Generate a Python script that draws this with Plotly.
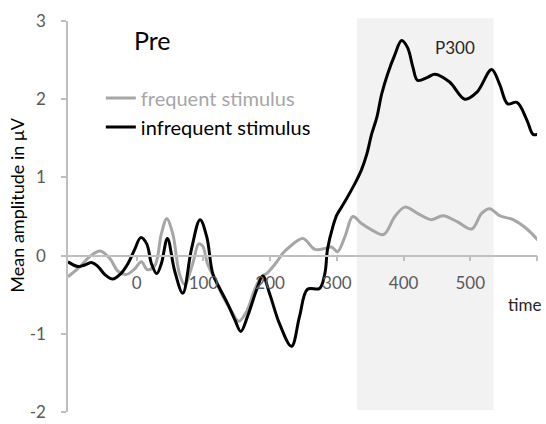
import plotly.graph_objects as go

# ---- data ----
inf_t = [-103, -88, -78, -67, -58, -48, -36, -25, -13, -3, 6, 15, 22, 30, 37, 46, 57, 69, 82, 95,
         105, 114, 125, 136, 147, 156, 166, 180, 189, 199, 214, 232, 244, 256, 274, 282, 286, 294,
         300, 307, 316, 327, 337, 345, 352, 360, 367, 376, 387, 397, 406, 414, 421, 436, 447, 469,
         492, 510, 532, 544, 556, 570, 585, 594, 601]
inf_v = [-0.08, -0.14, -0.12, -0.09, -0.14, -0.24, -0.30, -0.24, -0.10, 0.08, 0.23, 0.15, -0.10,
         -0.23, -0.10, 0.22, -0.20, -0.48, 0.08, 0.46, 0.24, -0.23, -0.43, -0.61, -0.82, -0.97,
         -0.78, -0.43, -0.26, -0.48, -0.87, -1.16, -0.78, -0.43, -0.42, -0.23, 0.08, 0.37,
         0.52, 0.62, 0.75, 0.92, 1.10, 1.30, 1.55, 1.77, 2.06, 2.32, 2.57, 2.75, 2.66, 2.41, 2.24,
         2.28, 2.32, 2.22, 2.00, 2.09, 2.38, 2.19, 1.94, 1.96, 1.73, 1.55, 1.55]

freq_t = [-103, -85, -70, -55, -40, -28, -15, -3, 7, 16, 27, 37, 45, 54, 64, 72, 84, 93, 99, 106,
          117, 129, 142, 153, 165, 177, 187, 196, 210, 219, 229, 249, 267, 282, 292, 301, 312, 324,
          337, 352, 370, 387, 402, 421, 442, 459, 481, 502, 517, 529, 544, 564, 585, 601]
freq_v = [-0.27, -0.14, -0.01, 0.06, -0.04, -0.20, -0.24, -0.17, -0.08, -0.18, -0.13, 0.28, 0.47,
          0.28, -0.23, -0.37, -0.10, 0.15, 0.12, -0.10, -0.30, -0.52, -0.71, -0.84, -0.71, -0.43,
          -0.27, -0.22, -0.08, 0.03, 0.11, 0.22, 0.08, 0.09, 0.11, 0.05, 0.24, 0.50, 0.41, 0.33,
          0.27, 0.50, 0.62, 0.54, 0.46, 0.51, 0.43, 0.34, 0.54, 0.60, 0.51, 0.46, 0.34, 0.20]

x_tickvals = [0, 100, 200, 300, 400, 500, 600]
x_ticktext = ["0", "100", "200", "300", "400", "500", ""]
y_tickvals = [-2, -1, 0, 1, 2, 3]
y_ticktext = ["-2", "-1", "0", "1", "2", "3"]
p300_window = [330, 535]

FONT = "Lato"
TICK_COLOR = "#595959"
AXIS_COLOR = "#bfbfbf"

fig = go.Figure()
fig.add_trace(go.Scatter(
    x=freq_t, y=freq_v, mode="lines",
    name="<span style='color:#a6a6a6'>frequent stimulus</span>",
    line=dict(color="#a6a6a6", width=3, shape="spline", smoothing=1.0),
    hoverinfo="skip"))
fig.add_trace(go.Scatter(
    x=inf_t, y=inf_v, mode="lines",
    name="infrequent stimulus",
    line=dict(color="#000000", width=3, shape="spline", smoothing=1.0),
    hoverinfo="skip"))

fig.add_shape(type="rect", xref="x", yref="paper",
              x0=p300_window[0], x1=p300_window[1], y0=0.005, y1=1.007,
              fillcolor="#f2f2f2", line=dict(width=0), layer="below")

fig.add_annotation(x=24, y=2.76, xref="x", yref="y", text="Pre", showarrow=False,
                   font=dict(family=FONT, size=25, color="#000000"))
fig.add_annotation(x=477, y=2.66, xref="x", yref="y", text="P300", showarrow=False,
                   font=dict(family=FONT, size=17, color="#262626"))
fig.add_annotation(x=582, y=-0.62, xref="x", yref="y", text="time", showarrow=False,
                   font=dict(family=FONT, size=17, color="#262626"))
fig.add_annotation(x=-0.109, y=0.53, xref="paper", yref="paper", text="Mean amplitude in μV",
                   textangle=-90, showarrow=False, xanchor="center", yanchor="middle",
                   font=dict(family=FONT, size=18, color="#000000"))

xr = [-103, 600]
fig.update_layout(
    width=546, height=424,
    margin=dict(l=68, r=9, t=21, b=12, autoexpand=False),
    paper_bgcolor="white", plot_bgcolor="white",
    font=dict(family=FONT, size=17, color=TICK_COLOR),
    showlegend=True,
    legend=dict(x=0.07, y=0.853, xanchor="left", yanchor="top",
                bgcolor="rgba(0,0,0,0)", borderwidth=0,
                font=dict(family=FONT, size=20, color="#000000"),
                tracegroupgap=0, itemwidth=30),
    xaxis=dict(range=xr, tickvals=x_tickvals, ticktext=x_ticktext,
               anchor="free", position=0.4, showgrid=False, zeroline=False,
               showline=True, linecolor=AXIS_COLOR, linewidth=1.5,
               ticks="outside", ticklen=5, tickcolor=AXIS_COLOR, tickwidth=1.5,
               ticklabelstandoff=7, automargin=False,
               tickfont=dict(family=FONT, size=17, color=TICK_COLOR)),
    xaxis2=dict(range=xr, tickvals=x_tickvals, overlaying="x",
                anchor="free", position=0.4, showgrid=False, zeroline=False,
                showline=False, ticks="inside", ticklen=5, tickcolor=AXIS_COLOR,
                tickwidth=1.5, showticklabels=False, side="bottom", automargin=False),
    yaxis=dict(range=[-2, 3], tickvals=y_tickvals, ticktext=y_ticktext,
               showgrid=False, zeroline=False,
               showline=True, linecolor=AXIS_COLOR, linewidth=1.5,
               ticks="outside", ticklen=5, tickcolor=AXIS_COLOR, tickwidth=1.5,
               ticklabelstandoff=12, automargin=False, ticklabeloverflow="allow",
               tickfont=dict(family=FONT, size=17, color=TICK_COLOR)),
)

# remove the browser's default 8px body margin so the figure fills the window exactly
fig.write_html("out.html",
               config={"displayModeBar": False},
               post_script="document.body.style.margin='0px';document.body.style.overflow='hidden';")
